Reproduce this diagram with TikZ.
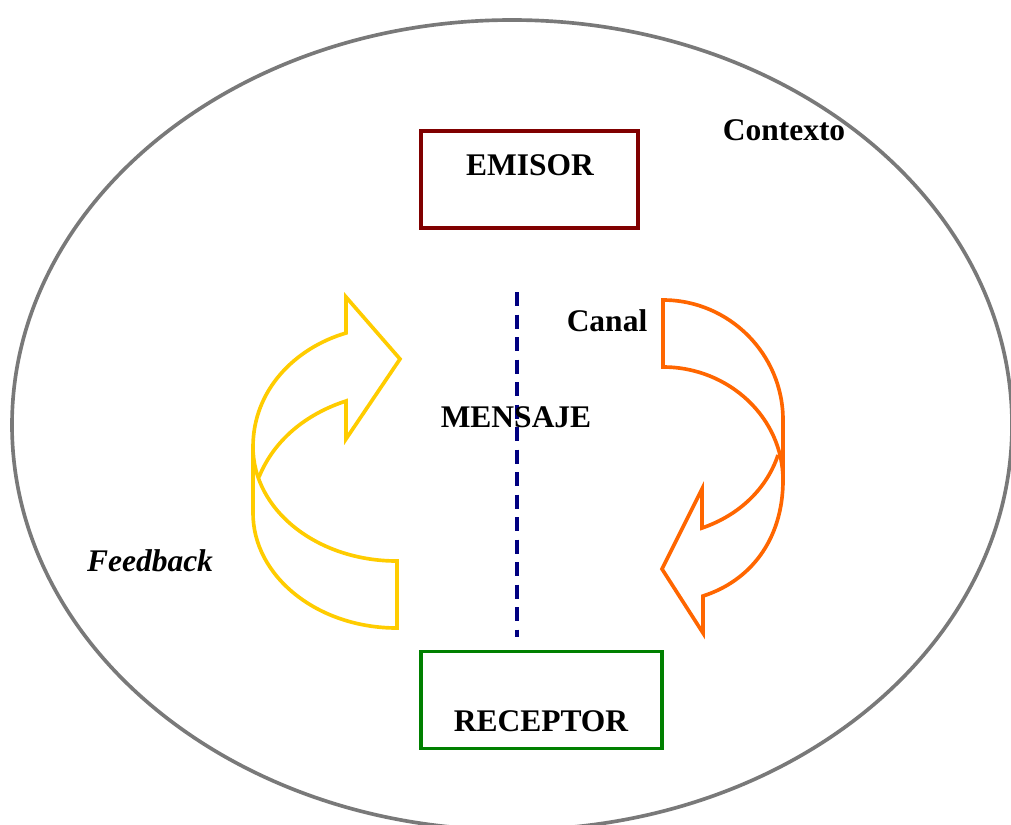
\documentclass[tikz,border=0pt]{standalone}
\usepackage{fontspec}
\setmainfont{Liberation Serif}
\definecolor{EmisorRed}{RGB}{128,0,0}
\definecolor{ReceptorGreen}{RGB}{0,128,0}
\definecolor{FeedYellow}{RGB}{255,204,0}
\definecolor{CanalOrange}{RGB}{255,102,0}
\definecolor{MsgNavy}{RGB}{0,0,128}
\begin{document}
\begin{tikzpicture}[x=0.025cm, y=-0.025cm,
    every node/.style={inner sep=0pt, font=\fontsize{22.4}{26}\selectfont\bfseries},
    partbox/.style={draw, line width=2.8pt, minimum width=5.425cm, minimum height=2.425cm},
    bandline/.style={line width=2.6pt, line join=miter}]
  \useasboundingbox (0,0) rectangle (1011,824);
  \clip (0,0) rectangle (1011,824);
  % contexto
  \draw[gray!95!black, line width=2.6pt] (512,425) ellipse [x radius=500, y radius=405];
  \node[anchor=base] (contexto) at (784,140) {Contexto};
  % emisor y receptor
  \node[partbox, draw=EmisorRed] (emisor) at (529.5,179.5) {};
  \node[anchor=base] (emisortxt) at (530,175) {EMISOR};
  \node[partbox, draw=ReceptorGreen, minimum width=6.025cm] (receptor) at (541.5,700) {};
  \node[anchor=base] (receptortxt) at (541,731) {RECEPTOR};
  % mensaje
  \coordinate (msgtop) at (517,292);
  \coordinate (msgbot) at (517,637);
  \draw[MsgNavy, line width=2.6pt, dash pattern=on 10pt off 6pt] (msgtop) -- (msgbot);
  \node[anchor=base] (mensaje) at (516,427) {MENSAJE};
  \node[anchor=base] (canal) at (607,331) {Canal};
  \node[anchor=base, font=\fontsize{22.4}{26}\selectfont\bfseries\itshape] (feedback) at (150,571) {Feedback};
  % flecha del feedback
  \draw[FeedYellow, bandline] (253,447) .. controls (253,390) and (295,348) .. (346,333)
    -- (346,297) -- (400,359) -- (346,439) -- (346,401)
    .. controls (306,414) and (274,440) .. (259,477);
  \draw[FeedYellow, bandline] (253,447) -- (253,513) .. controls (253,576) and (317,628) .. (397,628)
    -- (397,561) .. controls (317,561) and (253,510) .. cycle;
  % flecha del canal
  \draw[CanalOrange, bandline] (663,300) -- (663,367) .. controls (729,367) and (783,418) .. (783,480)
    -- (783,420) .. controls (783,354) and (729,300) .. cycle;
  \draw[CanalOrange, bandline] (783,480) .. controls (783,540) and (750,581) .. (703,596)
    -- (703,633) -- (662,569) -- (702,489) -- (702,528)
    .. controls (740,515) and (767,488) .. (778,455);
\end{tikzpicture}
\end{document}
